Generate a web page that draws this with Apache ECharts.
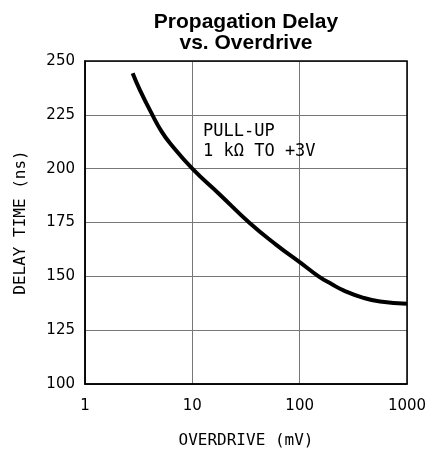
<!DOCTYPE html>
<html>
<head>
<meta charset="utf-8">
<script src="https://cdn.jsdelivr.net/npm/echarts@6/dist/echarts.min.js"></script>
<style>
  html, body { margin: 0; padding: 0; background: #fff; }
  #chart { width: 427px; height: 450px; }
</style>
</head>
<body>
<div id="chart"></div>
<script>
// values
const overdrive = [2.78, 3.25, 4.24, 5.18, 6.2, 10, 18, 33.8, 61, 100, 150, 200, 256, 393, 561, 1000];
const delayTime = [244.3, 236.5, 225, 217.2, 211.8, 200, 188, 175, 164.5, 156.6, 150, 146.3, 143.5, 140, 138.3, 137.3];
const yTicks = [100, 125, 150, 175, 200, 225, 250];

const tickFont = 'DejaVu Sans';
const monoFont = 'DejaVu Sans Mono';
const chart = echarts.init(document.getElementById('chart'));

chart.setOption({
  animation: false,
  grid: { left: 85, right: 20, top: 61, bottom: 66, outerBoundsMode: 'none' },
  xAxis: {
    type: 'log',
    logBase: 10,
    min: 1,
    max: 1000,
    name: 'OVERDRIVE (mV)',
    nameLocation: 'middle',
    nameGap: 49,
    nameTextStyle: { fontFamily: monoFont, fontSize: 16, color: '#000' },
    axisLine: { lineStyle: { color: '#000', width: 1.5 } },
    axisTick: { show: false },
    axisLabel: {
      fontFamily: tickFont, fontSize: 15, color: '#000', margin: 15,
      formatter: v => String(Math.round(v))
    },
    splitLine: { show: true, lineStyle: { color: '#777', width: 1 } },
    minorSplitLine: { show: false }
  },
  yAxis: {
    type: 'value',
    min: yTicks[0],
    max: yTicks[yTicks.length - 1],
    interval: 25,
    name: 'DELAY TIME (ns)',
    nameLocation: 'middle',
    nameGap: 56,
    nameTextStyle: { fontFamily: monoFont, fontSize: 16, color: '#000' },
    axisLine: { show: true, lineStyle: { color: '#000', width: 1.5 } },
    axisTick: { show: false },
    axisLabel: { fontFamily: tickFont, fontSize: 15, color: '#000', margin: 10 },
    splitLine: { show: true, lineStyle: { color: '#777', width: 1 } }
  },
  graphic: [
    {
      type: 'text',
      x: 246,
      y: 12,
      style: {
        text: 'Propagation Delay\nvs. Overdrive',
        font: 'bold 21px "Liberation Sans"',
        lineHeight: 21,
        textAlign: 'center',
        fill: '#000'
      }
    },
    {
      type: 'rect',
      shape: { x: 85, y: 61, width: 322, height: 323 },
      style: { fill: 'none', stroke: '#000', lineWidth: 1.5 },
      z: 10,
      silent: true
    },
    {
      type: 'text',
      left: 203,
      top: 122,
      style: {
        text: 'PULL-UP\n1 kΩ TO +3V',
        font: '17px "DejaVu Sans Mono"',
        lineHeight: 20,
        fill: '#000'
      },
      z: 10
    }
  ],
  series: [{
    type: 'line',
    data: overdrive.map((x, i) => [x, delayTime[i]]),
    smooth: 0.5,
    showSymbol: false,
    lineStyle: { color: '#000', width: 4 },
    z: 5
  }]
});
</script>
</body>
</html>
